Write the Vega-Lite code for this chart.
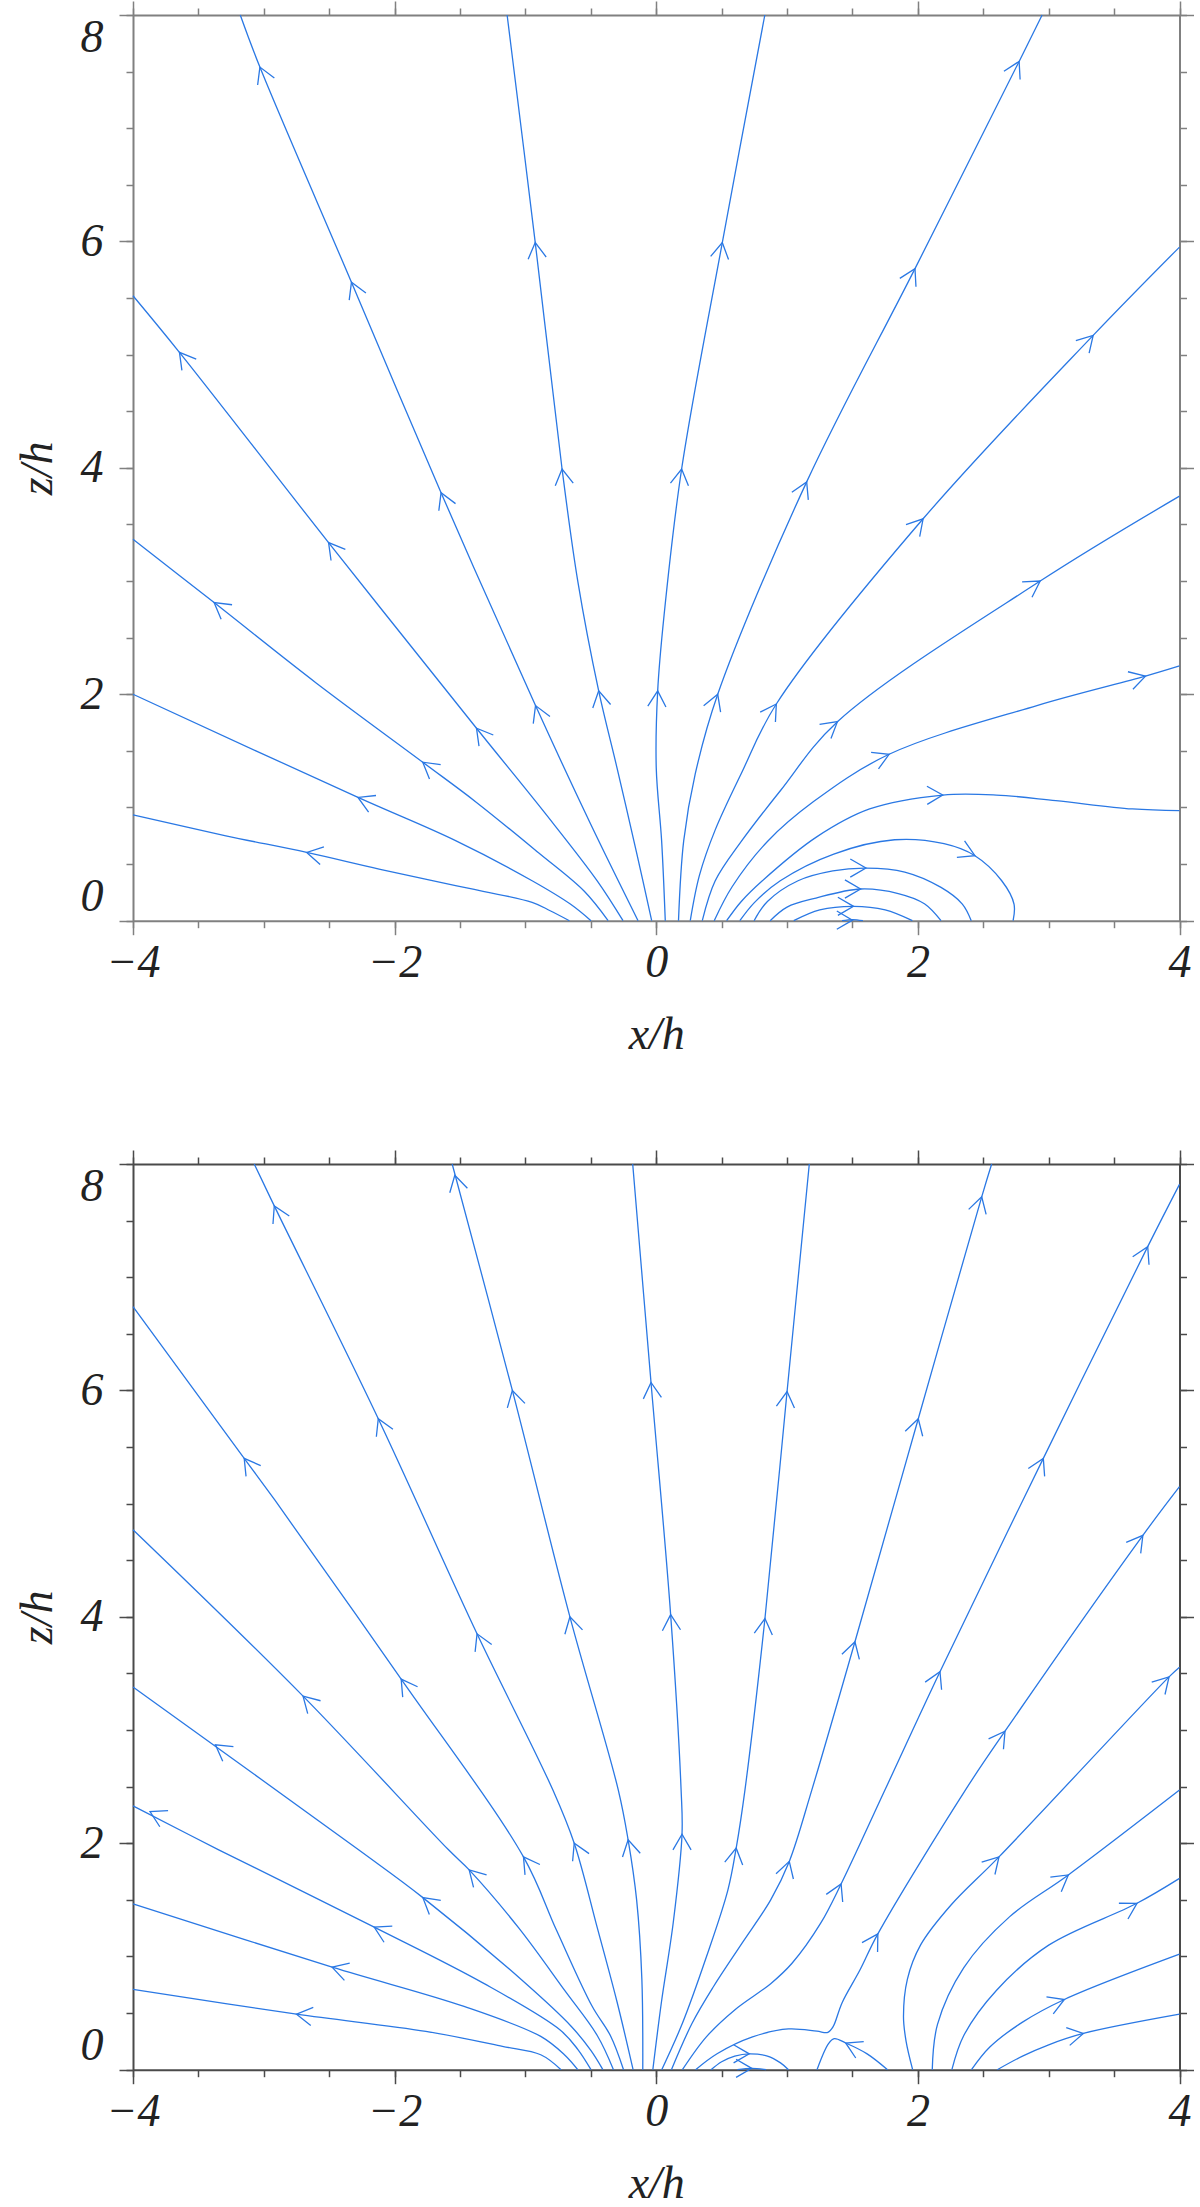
{
"$schema":"https://vega.github.io/schema/vega-lite/v6.json",
"padding":{"left":14,"top":0,"right":0,"bottom":0},
"spacing":91,
"config":{"view":{"stroke":null},"line":{"interpolate":"catmull-rom"},"axis":{"grid":false,"labelFont":"Liberation Serif","labelFontStyle":"italic","labelFontSize":46,"labelColor":"#222222","titleFont":"Liberation Serif","titleFontStyle":"italic","titleFontWeight":"normal","titleFontSize":46,"titleColor":"#222222","domainWidth":2,"tickWidth":1.5,"labelBound":false,"labelOverlap":false}},
"datasets":{
"tl":[
{"l":"T1","i":0,"x":-0.664,"z":0},{"l":"T1","i":1,"x":-0.811,"z":0.088},{"l":"T1","i":2,"x":-0.949,"z":0.162},{"l":"T1","i":3,"x":-1.534,"z":0.309},{"l":"T1","i":4,"x":-2.119,"z":0.456},{"l":"T1","i":5,"x":-2.672,"z":0.603},{"l":"T1","i":6,"x":-3.29,"z":0.75},{"l":"T1","i":7,"x":-4,"z":0.934},
{"l":"T2","i":0,"x":-0.499,"z":0},{"l":"T2","i":1,"x":-0.657,"z":0.147},{"l":"T2","i":2,"x":-0.949,"z":0.353},{"l":"T2","i":3,"x":-1.534,"z":0.707},{"l":"T2","i":4,"x":-2.28,"z":1.089},{"l":"T2","i":5,"x":-4,"z":2.0},
{"l":"T3","i":0,"x":-0.368,"z":0},{"l":"T3","i":1,"x":-0.55,"z":0.26},{"l":"T3","i":2,"x":-0.9,"z":0.6},{"l":"T3","i":3,"x":-1.374,"z":1.045},{"l":"T3","i":4,"x":-1.785,"z":1.4},{"l":"T3","i":5,"x":-2.6,"z":2.1},{"l":"T3","i":6,"x":-3.38,"z":2.81},{"l":"T3","i":7,"x":-4,"z":3.37},
{"l":"T4","i":0,"x":-0.254,"z":0},{"l":"T4","i":1,"x":-0.45,"z":0.35},{"l":"T4","i":2,"x":-0.85,"z":0.95},{"l":"T4","i":3,"x":-1.374,"z":1.7},{"l":"T4","i":4,"x":-2.505,"z":3.34},{"l":"T4","i":5,"x":-3.645,"z":5.02},{"l":"T4","i":6,"x":-4,"z":5.52},
{"l":"T5","i":0,"x":-0.139,"z":0},{"l":"T5","i":1,"x":-0.5,"z":0.85},{"l":"T5","i":2,"x":-0.923,"z":1.9},{"l":"T5","i":3,"x":-1.645,"z":3.78},{"l":"T5","i":4,"x":-2.33,"z":5.64},{"l":"T5","i":5,"x":-3.03,"z":7.54},{"l":"T5","i":6,"x":-3.18,"z":8},
{"l":"T6","i":0,"x":-0.035,"z":0},{"l":"T6","i":1,"x":-0.15,"z":0.6},{"l":"T6","i":2,"x":-0.3,"z":1.35},{"l":"T6","i":3,"x":-0.44,"z":2.03},{"l":"T6","i":4,"x":-0.6,"z":3.0},{"l":"T6","i":5,"x":-0.72,"z":3.99},{"l":"T6","i":6,"x":-0.925,"z":5.99},{"l":"T6","i":7,"x":-1.14,"z":8},
{"l":"T7","i":0,"x":0.069,"z":0},{"l":"T7","i":1,"x":0.041,"z":0.707},{"l":"T7","i":2,"x":0.0,"z":1.35},{"l":"T7","i":3,"x":0.011,"z":2.03},{"l":"T7","i":4,"x":0.06,"z":2.7},{"l":"T7","i":5,"x":0.194,"z":3.99},{"l":"T7","i":6,"x":0.505,"z":5.99},{"l":"T7","i":7,"x":0.83,"z":8},
{"l":"T8","i":0,"x":0.17,"z":0},{"l":"T8","i":1,"x":0.21,"z":0.707},{"l":"T8","i":2,"x":0.298,"z":1.296},{"l":"T8","i":3,"x":0.47,"z":2.0},{"l":"T8","i":4,"x":1.15,"z":3.876},{"l":"T8","i":5,"x":1.978,"z":5.76},{"l":"T8","i":6,"x":2.774,"z":7.59},{"l":"T8","i":7,"x":2.95,"z":8},
{"l":"T9","i":0,"x":0.26,"z":0},{"l":"T9","i":1,"x":0.33,"z":0.4},{"l":"T9","i":2,"x":0.45,"z":0.8},{"l":"T9","i":3,"x":0.65,"z":1.3},{"l":"T9","i":4,"x":0.918,"z":1.914},{"l":"T9","i":5,"x":2.04,"z":3.55},{"l":"T9","i":6,"x":3.34,"z":5.17},{"l":"T9","i":7,"x":4,"z":5.95},
{"l":"T10","i":0,"x":0.352,"z":0},{"l":"T10","i":1,"x":0.45,"z":0.35},{"l":"T10","i":2,"x":0.65,"z":0.7},{"l":"T10","i":3,"x":0.95,"z":1.15},{"l":"T10","i":4,"x":1.385,"z":1.758},{"l":"T10","i":5,"x":2.935,"z":3.0},{"l":"T10","i":6,"x":4,"z":3.75},
{"l":"T11","i":0,"x":0.443,"z":0},{"l":"T11","i":1,"x":0.58,"z":0.3},{"l":"T11","i":2,"x":0.85,"z":0.7},{"l":"T11","i":3,"x":1.2,"z":1.05},{"l":"T11","i":4,"x":1.78,"z":1.47},{"l":"T11","i":5,"x":2.91,"z":1.9},{"l":"T11","i":6,"x":3.74,"z":2.16},{"l":"T11","i":7,"x":4,"z":2.25},
{"l":"T12","i":0,"x":0.538,"z":0},{"l":"T12","i":1,"x":0.65,"z":0.17},{"l":"T12","i":2,"x":0.811,"z":0.353},{"l":"T12","i":3,"x":1.221,"z":0.736},{"l":"T12","i":4,"x":1.631,"z":0.987},{"l":"T12","i":5,"x":2.19,"z":1.11},{"l":"T12","i":6,"x":2.6,"z":1.11},{"l":"T12","i":7,"x":3.055,"z":1.06},{"l":"T12","i":8,"x":3.64,"z":0.987},{"l":"T12","i":9,"x":4,"z":0.972},
{"l":"L4","i":0,"x":0.639,"z":0},{"l":"L4","i":1,"x":0.75,"z":0.16},{"l":"L4","i":2,"x":0.948,"z":0.353},{"l":"L4","i":3,"x":1.357,"z":0.589},{"l":"L4","i":4,"x":1.822,"z":0.715},{"l":"L4","i":5,"x":2.2,"z":0.68},{"l":"L4","i":6,"x":2.436,"z":0.574},{"l":"L4","i":7,"x":2.641,"z":0.353},{"l":"L4","i":8,"x":2.735,"z":0.147},{"l":"L4","i":9,"x":2.728,"z":0},
{"l":"L3","i":0,"x":0.748,"z":0},{"l":"L3","i":1,"x":0.85,"z":0.17},{"l":"L3","i":2,"x":1.084,"z":0.353},{"l":"L3","i":3,"x":1.35,"z":0.44},{"l":"L3","i":4,"x":1.603,"z":0.465},{"l":"L3","i":5,"x":1.9,"z":0.43},{"l":"L3","i":6,"x":2.177,"z":0.294},{"l":"L3","i":7,"x":2.34,"z":0.147},{"l":"L3","i":8,"x":2.408,"z":0},
{"l":"L2","i":0,"x":0.871,"z":0},{"l":"L2","i":1,"x":1.0,"z":0.12},{"l":"L2","i":2,"x":1.221,"z":0.2},{"l":"L2","i":3,"x":1.562,"z":0.28},{"l":"L2","i":4,"x":1.85,"z":0.24},{"l":"L2","i":5,"x":2.05,"z":0.15},{"l":"L2","i":6,"x":2.177,"z":0},
{"l":"L1","i":0,"x":1.051,"z":0},{"l":"L1","i":1,"x":1.25,"z":0.095},{"l":"L1","i":2,"x":1.508,"z":0.127},{"l":"L1","i":3,"x":1.75,"z":0.095},{"l":"L1","i":4,"x":1.958,"z":0},
{"l":"L0","i":0,"x":1.42,"z":0},{"l":"L0","i":1,"x":1.5,"z":0.01},{"l":"L0","i":2,"x":1.58,"z":0}
],
"ta":[
{"x":-2.672,"z":0.603,"d":192},{"x":-2.28,"z":1.089,"d":204},{"x":-1.785,"z":1.4,"d":218},{"x":-3.38,"z":2.81,"d":217},
{"x":-1.374,"z":1.7,"d":232},{"x":-2.505,"z":3.34,"d":232},{"x":-3.645,"z":5.02,"d":232},
{"x":-0.923,"z":1.9,"d":247},{"x":-1.645,"z":3.78,"d":247},{"x":-2.33,"z":5.64,"d":247},{"x":-3.03,"z":7.54,"d":247},
{"x":-0.44,"z":2.03,"d":259},{"x":-0.72,"z":3.99,"d":262},{"x":-0.925,"z":5.99,"d":263},
{"x":0.011,"z":2.03,"d":273},{"x":0.194,"z":3.99,"d":278},{"x":0.505,"z":5.99,"d":280},
{"x":0.47,"z":2.0,"d":291},{"x":1.15,"z":3.876,"d":295},{"x":1.978,"z":5.76,"d":297},{"x":2.774,"z":7.59,"d":297},
{"x":0.918,"z":1.914,"d":303},{"x":2.04,"z":3.55,"d":311},{"x":3.34,"z":5.17,"d":313},
{"x":1.385,"z":1.758,"d":321},{"x":2.935,"z":3.0,"d":327},
{"x":1.78,"z":1.47,"d":336},{"x":3.74,"z":2.16,"d":344},
{"x":2.19,"z":1.11,"d":359},{"x":2.436,"z":0.574,"d":25},
{"x":1.603,"z":0.465,"d":0},{"x":1.562,"z":0.28,"d":0},{"x":1.508,"z":0.127,"d":0},{"x":1.5,"z":0.005,"d":0}
],
"bl":[
{"l":"A1","i":0,"x":-0.728,"z":0},{"l":"A1","i":1,"x":-0.883,"z":0.132},{"l":"A1","i":2,"x":-1.176,"z":0.206},{"l":"A1","i":3,"x":-1.761,"z":0.338},{"l":"A1","i":4,"x":-2.75,"z":0.49},{"l":"A1","i":5,"x":-4,"z":0.71},
{"l":"A2","i":0,"x":-0.6,"z":0},{"l":"A2","i":1,"x":-0.7,"z":0.13},{"l":"A2","i":2,"x":-0.883,"z":0.294},{"l":"A2","i":3,"x":-1.469,"z":0.559},{"l":"A2","i":4,"x":-2.478,"z":0.906},{"l":"A2","i":5,"x":-4,"z":1.465},
{"l":"A3","i":0,"x":-0.499,"z":0},{"l":"A3","i":1,"x":-0.6,"z":0.18},{"l":"A3","i":2,"x":-0.737,"z":0.353},{"l":"A3","i":3,"x":-1.322,"z":0.765},{"l":"A3","i":4,"x":-2.156,"z":1.26},{"l":"A3","i":5,"x":-3.341,"z":1.94},{"l":"A3","i":6,"x":-4,"z":2.33},
{"l":"A4","i":0,"x":-0.408,"z":0},{"l":"A4","i":1,"x":-0.5,"z":0.17},{"l":"A4","i":2,"x":-0.649,"z":0.382},{"l":"A4","i":3,"x":-1.03,"z":0.794},{"l":"A4","i":4,"x":-1.784,"z":1.52},{"l":"A4","i":5,"x":-2.273,"z":1.94},{"l":"A4","i":6,"x":-4,"z":3.38},
{"l":"A5","i":0,"x":-0.327,"z":0},{"l":"A5","i":1,"x":-0.45,"z":0.3},{"l":"A5","i":2,"x":-0.7,"z":0.7},{"l":"A5","i":3,"x":-1.05,"z":1.25},{"l":"A5","i":4,"x":-1.43,"z":1.765},{"l":"A5","i":5,"x":-1.586,"z":1.94},{"l":"A5","i":6,"x":-2.7,"z":3.3},{"l":"A5","i":7,"x":-4,"z":4.77},
{"l":"A6","i":0,"x":-0.25,"z":0},{"l":"A6","i":1,"x":-0.35,"z":0.3},{"l":"A6","i":2,"x":-0.49,"z":0.56},{"l":"A6","i":3,"x":-0.764,"z":1.236},{"l":"A6","i":4,"x":-1.015,"z":1.88},{"l":"A6","i":5,"x":-1.95,"z":3.45},{"l":"A6","i":6,"x":-2.915,"z":5.03},{"l":"A6","i":7,"x":-3.15,"z":5.4},{"l":"A6","i":8,"x":-4,"z":6.74},
{"l":"U1","i":0,"x":-0.177,"z":0},{"l":"U1","i":1,"x":-0.3,"z":0.6},{"l":"U1","i":2,"x":-0.45,"z":1.25},{"l":"U1","i":3,"x":-0.627,"z":2.0},{"l":"U1","i":4,"x":-0.79,"z":2.47},{"l":"U1","i":5,"x":-1.37,"z":3.85},{"l":"U1","i":6,"x":-2.125,"z":5.75},{"l":"U1","i":7,"x":-2.92,"z":7.63},{"l":"U1","i":8,"x":-3.073,"z":8},
{"l":"U2","i":0,"x":-0.103,"z":0},{"l":"U2","i":1,"x":-0.11,"z":0.8},{"l":"U2","i":2,"x":-0.15,"z":1.5},{"l":"U2","i":3,"x":-0.215,"z":2.03},{"l":"U2","i":4,"x":-0.29,"z":2.47},{"l":"U2","i":5,"x":-0.66,"z":4.0},{"l":"U2","i":6,"x":-1.1,"z":6.0},{"l":"U2","i":7,"x":-1.56,"z":8},
{"l":"U3","i":0,"x":-0.026,"z":0},{"l":"U3","i":1,"x":0.04,"z":0.6},{"l":"U3","i":2,"x":0.13,"z":1.3},{"l":"U3","i":3,"x":0.197,"z":2.08},{"l":"U3","i":4,"x":0.19,"z":2.47},{"l":"U3","i":5,"x":0.11,"z":4.02},{"l":"U3","i":6,"x":-0.04,"z":6.07},{"l":"U3","i":7,"x":-0.18,"z":8},
{"l":"U4","i":0,"x":0.042,"z":0},{"l":"U4","i":1,"x":0.2,"z":0.41},{"l":"U4","i":2,"x":0.383,"z":0.995},{"l":"U4","i":3,"x":0.547,"z":1.584},{"l":"U4","i":4,"x":0.611,"z":1.957},{"l":"U4","i":5,"x":0.678,"z":2.47},{"l":"U4","i":6,"x":0.831,"z":3.985},{"l":"U4","i":7,"x":1.0,"z":5.99},{"l":"U4","i":8,"x":1.17,"z":8},
{"l":"U5","i":0,"x":0.116,"z":0},{"l":"U5","i":1,"x":0.274,"z":0.41},{"l":"U5","i":2,"x":0.438,"z":0.735},{"l":"U5","i":3,"x":0.656,"z":1.118},{"l":"U5","i":4,"x":0.875,"z":1.5},{"l":"U5","i":5,"x":1.017,"z":1.84},{"l":"U5","i":6,"x":1.189,"z":2.47},{"l":"U5","i":7,"x":1.519,"z":3.78},{"l":"U5","i":8,"x":2.003,"z":5.75},{"l":"U5","i":9,"x":2.488,"z":7.71},{"l":"U5","i":10,"x":2.564,"z":8},
{"l":"R1","i":0,"x":0.2,"z":0},{"l":"R1","i":1,"x":0.383,"z":0.29},{"l":"R1","i":2,"x":0.602,"z":0.53},{"l":"R1","i":3,"x":0.875,"z":0.76},{"l":"R1","i":4,"x":1.038,"z":0.94},{"l":"R1","i":5,"x":1.257,"z":1.294},{"l":"R1","i":6,"x":1.413,"z":1.64},{"l":"R1","i":7,"x":1.748,"z":2.47},{"l":"R1","i":8,"x":2.169,"z":3.515},{"l":"R1","i":9,"x":2.959,"z":5.4},{"l":"R1","i":10,"x":3.757,"z":7.27},{"l":"R1","i":11,"x":4,"z":7.82},
{"l":"R2","i":0,"x":0.301,"z":0},{"l":"R2","i":1,"x":0.465,"z":0.141},{"l":"R2","i":2,"x":0.736,"z":0.29},{"l":"R2","i":3,"x":1.011,"z":0.36},{"l":"R2","i":4,"x":1.229,"z":0.34},{"l":"R2","i":5,"x":1.312,"z":0.33},{"l":"R2","i":6,"x":1.352,"z":0.38},{"l":"R2","i":7,"x":1.42,"z":0.59},{"l":"R2","i":8,"x":1.557,"z":0.88},{"l":"R2","i":9,"x":1.694,"z":1.2},{"l":"R2","i":10,"x":2.363,"z":2.47},{"l":"R2","i":11,"x":2.666,"z":2.99},{"l":"R2","i":12,"x":3.72,"z":4.72},{"l":"R2","i":13,"x":4,"z":5.15},
{"l":"R3","i":0,"x":1.96,"z":0},{"l":"R3","i":1,"x":1.91,"z":0.25},{"l":"R3","i":2,"x":1.89,"z":0.47},{"l":"R3","i":3,"x":1.92,"z":0.8},{"l":"R3","i":4,"x":2.02,"z":1.1},{"l":"R3","i":5,"x":2.25,"z":1.45},{"l":"R3","i":6,"x":2.62,"z":1.88},{"l":"R3","i":7,"x":3.92,"z":3.47},{"l":"R3","i":8,"x":4,"z":3.555},
{"l":"R4","i":0,"x":2.11,"z":0},{"l":"R4","i":1,"x":2.15,"z":0.4},{"l":"R4","i":2,"x":2.35,"z":0.9},{"l":"R4","i":3,"x":2.7,"z":1.35},{"l":"R4","i":4,"x":3.15,"z":1.72},{"l":"R4","i":5,"x":4,"z":2.47},
{"l":"R5","i":0,"x":2.26,"z":0},{"l":"R5","i":1,"x":2.35,"z":0.3},{"l":"R5","i":2,"x":2.6,"z":0.7},{"l":"R5","i":3,"x":3.0,"z":1.1},{"l":"R5","i":4,"x":3.675,"z":1.47},{"l":"R5","i":5,"x":4,"z":1.69},
{"l":"R6","i":0,"x":2.41,"z":0},{"l":"R6","i":1,"x":2.55,"z":0.2},{"l":"R6","i":2,"x":2.8,"z":0.42},{"l":"R6","i":3,"x":3.12,"z":0.62},{"l":"R6","i":4,"x":4,"z":1.02},
{"l":"R7","i":0,"x":2.607,"z":0},{"l":"R7","i":1,"x":2.8,"z":0.12},{"l":"R7","i":2,"x":3.0,"z":0.22},{"l":"R7","i":3,"x":3.265,"z":0.32},{"l":"R7","i":4,"x":4,"z":0.49},
{"l":"Ka","i":0,"x":0.419,"z":0},{"l":"Ka","i":1,"x":0.5,"z":0.07},{"l":"Ka","i":2,"x":0.6,"z":0.12},{"l":"Ka","i":3,"x":0.711,"z":0.14},{"l":"Ka","i":4,"x":0.85,"z":0.12},{"l":"Ka","i":5,"x":0.95,"z":0.06},{"l":"Ka","i":6,"x":1.011,"z":0},
{"l":"Kb","i":0,"x":0.62,"z":0},{"l":"Kb","i":1,"x":0.73,"z":0.012},{"l":"Kb","i":2,"x":0.84,"z":0},
{"l":"Kc","i":0,"x":1.768,"z":0},{"l":"Kc","i":1,"x":1.612,"z":0.14},{"l":"Kc","i":2,"x":1.448,"z":0.236},{"l":"Kc","i":3,"x":1.361,"z":0.274},{"l":"Kc","i":4,"x":1.317,"z":0.23},{"l":"Kc","i":5,"x":1.229,"z":0}
],
"ba":[
{"x":-2.75,"z":0.49,"d":188},{"x":-2.478,"z":0.906,"d":197},{"x":-2.156,"z":1.26,"d":207},{"x":-3.87,"z":2.28,"d":207},
{"x":-1.784,"z":1.52,"d":219},{"x":-3.37,"z":2.87,"d":216},{"x":-1.43,"z":1.765,"d":226},{"x":-2.7,"z":3.3,"d":225},
{"x":-1.015,"z":1.88,"d":235},{"x":-1.95,"z":3.45,"d":235},{"x":-3.15,"z":5.4,"d":234},
{"x":-0.627,"z":2.0,"d":245},{"x":-1.37,"z":3.85,"d":246},{"x":-2.125,"z":5.75,"d":246},{"x":-2.92,"z":7.63,"d":244},
{"x":-0.215,"z":2.03,"d":258},{"x":-0.66,"z":4.0,"d":256},{"x":-1.1,"z":6.0,"d":256},{"x":-1.54,"z":7.9,"d":256},
{"x":0.197,"z":2.08,"d":270},{"x":0.11,"z":4.02,"d":267},{"x":-0.04,"z":6.07,"d":265},
{"x":0.611,"z":1.957,"d":279},{"x":0.831,"z":3.985,"d":276},{"x":1.0,"z":5.99,"d":276},
{"x":1.017,"z":1.84,"d":287},{"x":1.519,"z":3.78,"d":286},{"x":2.003,"z":5.75,"d":286},{"x":2.488,"z":7.71,"d":286},
{"x":1.413,"z":1.64,"d":295},{"x":2.169,"z":3.515,"d":295},{"x":2.959,"z":5.4,"d":296},{"x":3.757,"z":7.27,"d":296},
{"x":1.694,"z":1.2,"d":301},{"x":2.666,"z":2.99,"d":305},{"x":3.72,"z":4.72,"d":307},
{"x":2.62,"z":1.88,"d":313},{"x":3.92,"z":3.47,"d":313},{"x":3.15,"z":1.72,"d":323},{"x":3.675,"z":1.47,"d":330},
{"x":3.12,"z":0.62,"d":338},{"x":3.265,"z":0.32,"d":349},
{"x":0.711,"z":0.14,"d":0},{"x":0.73,"z":0.012,"d":0},{"x":1.448,"z":0.236,"d":206}
]
},
"vconcat":[
{"width":1046.5,"height":905.7,"resolve":{"axis":{"x":"independent","y":"independent"}},
"layer":[
{"data":{"name":"tl"},"mark":{"type":"line","color":"#2a78e4","strokeWidth":1.3},
"encoding":{
"x":{"field":"x","type":"quantitative","scale":{"domain":[-4,4],"nice":false,"zero":false},"axis":{"orient":"bottom","values":[-4,-2,0,2,4],"tickSize":14,"labelPadding":6,"labelFlush":false,"title":"x/h","titlePadding":27,"domainColor":"#808080","tickColor":"#808080"}},
"y":{"field":"z","type":"quantitative","scale":{"domain":[0,8],"nice":false,"zero":false},"axis":{"orient":"left","values":[0,2,4,6,8],"tickSize":14,"labelPadding":16,"labelFlush":true,"title":"z/h","titlePadding":19,"domainColor":"#808080","tickColor":"#808080"}},
"detail":{"field":"l","type":"nominal"},
"order":{"field":"i","type":"quantitative"}}},
{"data":{"name":"ta"},"mark":{"type":"point","shape":"M -1 -0.58 L 0 0 L -1 0.58","filled":false,"color":"#2a78e4","strokeWidth":1.3,"size":980,"opacity":1},
"encoding":{
"x":{"field":"x","type":"quantitative","scale":{"domain":[-4,4],"nice":false,"zero":false},"axis":{"orient":"bottom","values":[-4,-3.5,-3,-2.5,-2,-1.5,-1,-0.5,0,0.5,1,1.5,2,2.5,3,3.5,4],"tickSize":7,"labels":false,"title":null,"domain":false,"tickColor":"#808080"}},
"y":{"field":"z","type":"quantitative","scale":{"domain":[0,8],"nice":false,"zero":false},"axis":{"orient":"left","values":[0,0.5,1,1.5,2,2.5,3,3.5,4,4.5,5,5.5,6,6.5,7,7.5,8],"tickSize":7,"labels":false,"title":null,"domain":false,"tickColor":"#808080"}},
"angle":{"field":"d","type":"quantitative","scale":{"domain":[0,360],"range":[0,360]}}}},
{"data":{"name":"ta"},"mark":{"type":"point","opacity":0},
"encoding":{
"x":{"field":"x","type":"quantitative","scale":{"domain":[-4,4],"nice":false,"zero":false},"axis":{"orient":"top","values":[-4,-2,0,2,4],"tickSize":14,"labels":false,"title":null,"domainColor":"#808080","tickColor":"#808080"}},
"y":{"field":"z","type":"quantitative","scale":{"domain":[0,8],"nice":false,"zero":false},"axis":{"orient":"right","values":[0,2,4,6,8],"tickSize":14,"labels":false,"title":null,"domainColor":"#808080","tickColor":"#808080"}}}},
{"data":{"name":"ta"},"mark":{"type":"point","opacity":0},
"encoding":{
"x":{"field":"x","type":"quantitative","scale":{"domain":[-4,4],"nice":false,"zero":false},"axis":{"orient":"top","values":[-4,-3.5,-3,-2.5,-2,-1.5,-1,-0.5,0,0.5,1,1.5,2,2.5,3,3.5,4],"tickSize":7,"labels":false,"title":null,"domain":false,"tickColor":"#808080"}},
"y":{"field":"z","type":"quantitative","scale":{"domain":[0,8],"nice":false,"zero":false},"axis":{"orient":"right","values":[0,0.5,1,1.5,2,2.5,3,3.5,4,4.5,5,5.5,6,6.5,7,7.5,8],"tickSize":7,"labels":false,"title":null,"domain":false,"tickColor":"#808080"}}}}
]},
{"width":1046.5,"height":905.7,"resolve":{"axis":{"x":"independent","y":"independent"}},
"layer":[
{"data":{"name":"bl"},"mark":{"type":"line","color":"#2a78e4","strokeWidth":1.3},
"encoding":{
"x":{"field":"x","type":"quantitative","scale":{"domain":[-4,4],"nice":false,"zero":false},"axis":{"orient":"bottom","values":[-4,-2,0,2,4],"tickSize":14,"labelPadding":6,"labelFlush":false,"title":"x/h","titlePadding":27,"domainColor":"#4a4a4a","tickColor":"#4a4a4a"}},
"y":{"field":"z","type":"quantitative","scale":{"domain":[0,8],"nice":false,"zero":false},"axis":{"orient":"left","values":[0,2,4,6,8],"tickSize":14,"labelPadding":16,"labelFlush":true,"title":"z/h","titlePadding":19,"domainColor":"#4a4a4a","tickColor":"#4a4a4a"}},
"detail":{"field":"l","type":"nominal"},
"order":{"field":"i","type":"quantitative"}}},
{"data":{"name":"ba"},"mark":{"type":"point","shape":"M -1 -0.58 L 0 0 L -1 0.58","filled":false,"color":"#2a78e4","strokeWidth":1.3,"size":980,"opacity":1},
"encoding":{
"x":{"field":"x","type":"quantitative","scale":{"domain":[-4,4],"nice":false,"zero":false},"axis":{"orient":"bottom","values":[-4,-3.5,-3,-2.5,-2,-1.5,-1,-0.5,0,0.5,1,1.5,2,2.5,3,3.5,4],"tickSize":7,"labels":false,"title":null,"domain":false,"tickColor":"#4a4a4a"}},
"y":{"field":"z","type":"quantitative","scale":{"domain":[0,8],"nice":false,"zero":false},"axis":{"orient":"left","values":[0,0.5,1,1.5,2,2.5,3,3.5,4,4.5,5,5.5,6,6.5,7,7.5,8],"tickSize":7,"labels":false,"title":null,"domain":false,"tickColor":"#4a4a4a"}},
"angle":{"field":"d","type":"quantitative","scale":{"domain":[0,360],"range":[0,360]}}}},
{"data":{"name":"ba"},"mark":{"type":"point","opacity":0},
"encoding":{
"x":{"field":"x","type":"quantitative","scale":{"domain":[-4,4],"nice":false,"zero":false},"axis":{"orient":"top","values":[-4,-2,0,2,4],"tickSize":14,"labels":false,"title":null,"domainColor":"#4a4a4a","tickColor":"#4a4a4a"}},
"y":{"field":"z","type":"quantitative","scale":{"domain":[0,8],"nice":false,"zero":false},"axis":{"orient":"right","values":[0,2,4,6,8],"tickSize":14,"labels":false,"title":null,"domainColor":"#4a4a4a","tickColor":"#4a4a4a"}}}},
{"data":{"name":"ba"},"mark":{"type":"point","opacity":0},
"encoding":{
"x":{"field":"x","type":"quantitative","scale":{"domain":[-4,4],"nice":false,"zero":false},"axis":{"orient":"top","values":[-4,-3.5,-3,-2.5,-2,-1.5,-1,-0.5,0,0.5,1,1.5,2,2.5,3,3.5,4],"tickSize":7,"labels":false,"title":null,"domain":false,"tickColor":"#4a4a4a"}},
"y":{"field":"z","type":"quantitative","scale":{"domain":[0,8],"nice":false,"zero":false},"axis":{"orient":"right","values":[0,0.5,1,1.5,2,2.5,3,3.5,4,4.5,5,5.5,6,6.5,7,7.5,8],"tickSize":7,"labels":false,"title":null,"domain":false,"tickColor":"#4a4a4a"}}}}
]}
]
}
